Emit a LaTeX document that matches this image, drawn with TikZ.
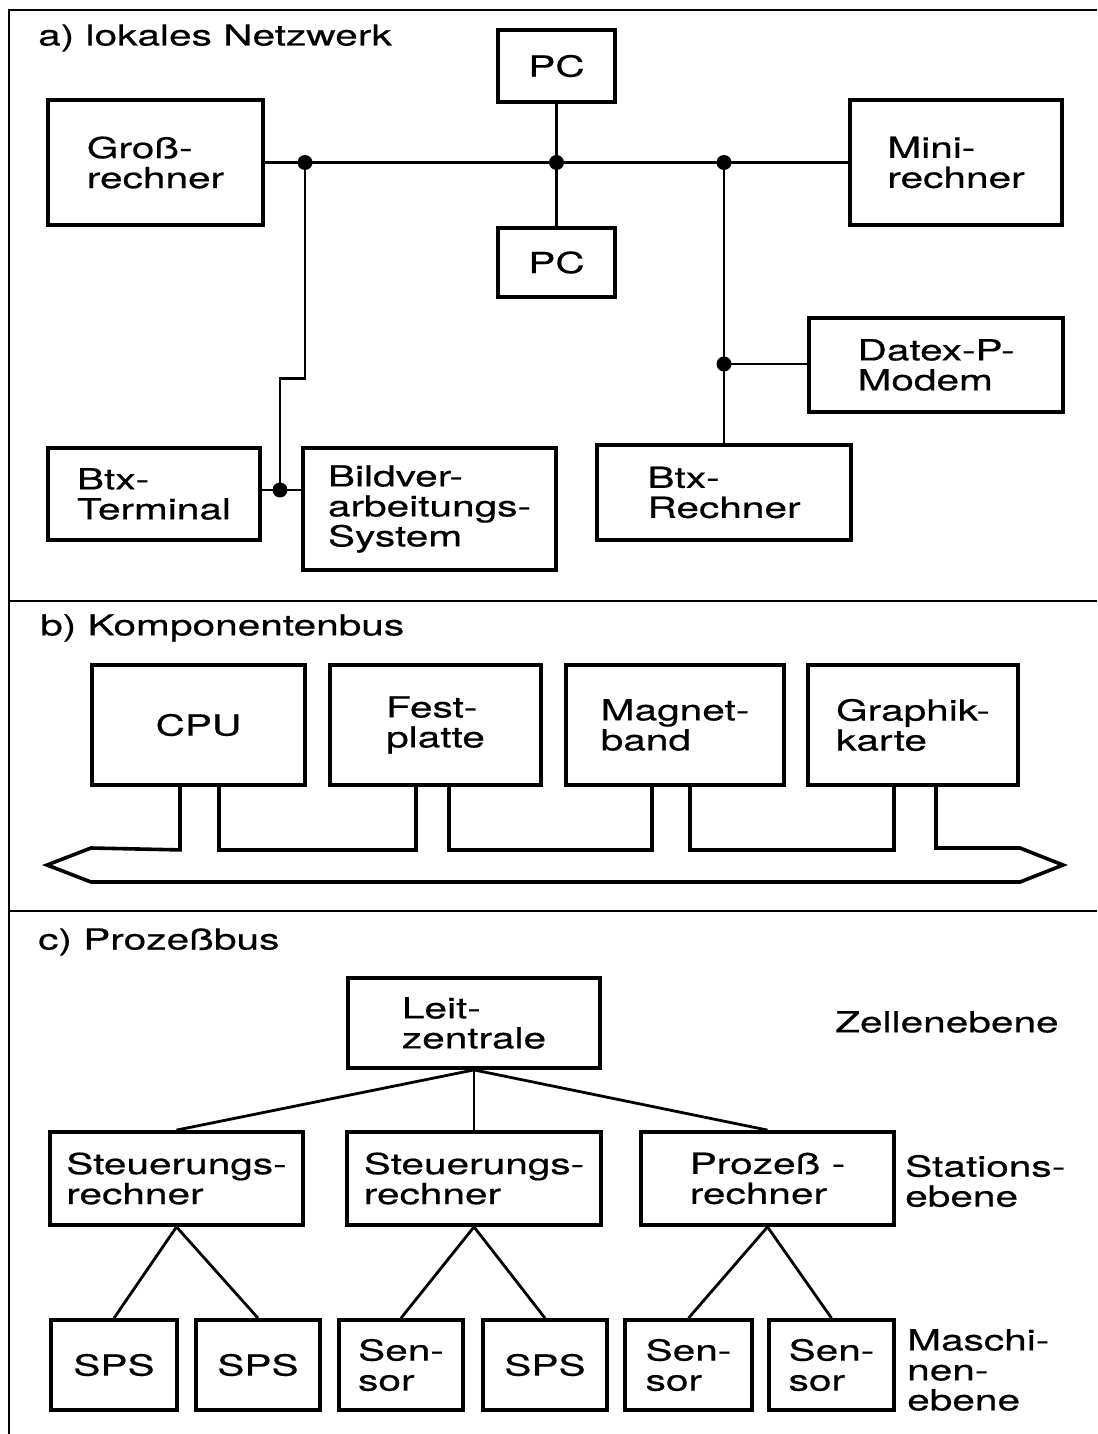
\documentclass[tikz,border=0pt]{standalone}
\usepackage{fontspec}
\setmainfont{TeX Gyre Heros}[FakeStretch=1.4,FakeBold=0.5]
\newcommand{\figfont}{\fontsize{29}{30}\selectfont}
\begin{document}
\begin{tikzpicture}[x=1pt,y=-1pt,
  box/.style={draw, line width=3.8pt, inner sep=0pt, align=left, font=\figfont},
  lbl/.style={inner sep=0pt, align=left, font=\figfont},
  wire/.style={line width=2.8pt},
  frame/.style={line width=2.5pt},
  bus/.style={line width=3.6pt, line join=miter},
  dotmark/.style={fill, circle, inner sep=0pt, minimum size=15pt}]
\useasboundingbox (0,0) rectangle (1097,1434);
\fill[white] (0,0) rectangle (1097,1434);
% frame
\draw[frame] (9,1434) -- (9,10) -- (1097,10);
\draw[frame] (9,601) -- (1097,601);
\draw[frame] (9,911) -- (1097,911);
% ---------- a)
\node[lbl, anchor=west] (ta) at (38,38) {a) lokales Netzwerk};
\node[box, minimum width=117, minimum height=72] (pc1) at (556.5,66) {PC};
\node[box, minimum width=215, minimum height=125] (gross) at (155.5,162.5) {Groß-\\rechner};
\node[box, minimum width=117, minimum height=69] (pc2) at (556.5,262.5) {PC};
\node[box, minimum width=212, minimum height=125] (mini) at (956,162.5) {Mini-\\rechner};
\node[box, minimum width=254, minimum height=94] (datex) at (936,365) {Datex-P-\\Modem};
\node[box, minimum width=212, minimum height=92] (term) at (154,494) {Btx-\\Terminal};
\node[box, minimum width=253, minimum height=122] (bild) at (429.5,509) {Bildver-\\arbeitungs-\\System};
\node[box, minimum width=254, minimum height=95] (btxr) at (724,492.5) {Btx-\\Rechner};
\coordinate (d1) at (305,162.5);
\coordinate (d2) at (556.5,162.5);
\coordinate (d3) at (724,162.5);
\coordinate (d4) at (724,364);
\coordinate (dL) at (280,490);
\draw[wire] (gross.east) -- (mini.west);
\draw[wire] (pc1.south) -- (pc2.north);
\draw[wire] (d1) -- ++(0,216) -| (dL);
\draw[wire] (term.east |- dL) -- (bild.west |- dL);
\draw[wire] (d3) -- (btxr.north);
\draw[wire] (d4) -- (datex.west |- d4);
\foreach \d in {d1,d2,d3,d4,dL} \node[dotmark] at (\d) {};
% ---------- b)
\node[lbl, anchor=west] (tb) at (40,628) {b) Komponentenbus};
\node[box, minimum width=213, minimum height=120] (cpu) at (198.5,725) {CPU};
\node[box, minimum width=211, minimum height=120] (fest) at (435.5,725) {Fest-\\platte};
\node[box, minimum width=218, minimum height=120] (mag) at (675,725) {Magnet-\\band};
\node[box, minimum width=210, minimum height=120] (gra) at (913,725) {Graphik-\\karte};
\draw[bus] ([xshift=-18.5pt]cpu.south) -- ++(0,63) -- (91,848) -- (47,865) -- (91,882)
  -- (1020,882) -- (1063,865) -- (1020,848) -| ([xshift=23pt]gra.south);
\draw[bus] ([xshift=20.5pt]cpu.south) -- ++(0,63) -| ([xshift=-19.5pt]fest.south);
\draw[bus] ([xshift=13.5pt]fest.south) -- ++(0,63) -| ([xshift=-23pt]mag.south);
\draw[bus] ([xshift=15pt]mag.south) -- ++(0,63) -| ([xshift=-19pt]gra.south);
% ---------- c)
\node[lbl, anchor=west] (tc) at (38,942) {c) Prozeßbus};
\node[box, minimum width=252, minimum height=90] (leit) at (474,1023) {Leit-\\zentrale};
\node[lbl, anchor=west] (zell) at (835,1022) {Zellenebene};
\node[box, minimum width=253, minimum height=93] (st1) at (176.5,1178.5) {Steuerungs-\\rechner};
\node[box, minimum width=254, minimum height=93] (st2) at (474,1178.5) {Steuerungs-\\rechner};
\node[box, minimum width=253, minimum height=93] (proz) at (767.5,1178.5) {Prozeß -\\rechner};
\node[lbl, anchor=west] (stat) at (905,1181) {Stations-\\ebene};
\node[box, minimum width=126, minimum height=90] (sps1) at (114,1365) {SPS};
\node[box, minimum width=124, minimum height=90] (sps2) at (258,1365) {SPS};
\node[box, minimum width=124, minimum height=90] (sen1) at (401,1365) {Sen-\\sor};
\node[box, minimum width=124, minimum height=90] (sps3) at (545,1365) {SPS};
\node[box, minimum width=127, minimum height=90] (sen2) at (688.5,1365) {Sen-\\sor};
\node[box, minimum width=125, minimum height=90] (sen3) at (831.5,1365) {Sen-\\sor};
\node[lbl, anchor=west] (masch) at (907,1370) {Maschi-\\nen-\\ebene};
\draw[wire] (leit.south) -- (st1.north);
\draw[wire] (leit.south) -- (st2.north);
\draw[wire] (leit.south) -- (proz.north);
\draw[wire] (st1.south) -- (sps1.north);
\draw[wire] (st1.south) -- (sps2.north);
\draw[wire] (st2.south) -- (sen1.north);
\draw[wire] (st2.south) -- (sps3.north);
\draw[wire] (proz.south) -- (sen2.north);
\draw[wire] (proz.south) -- (sen3.north);
\end{tikzpicture}
\end{document}
